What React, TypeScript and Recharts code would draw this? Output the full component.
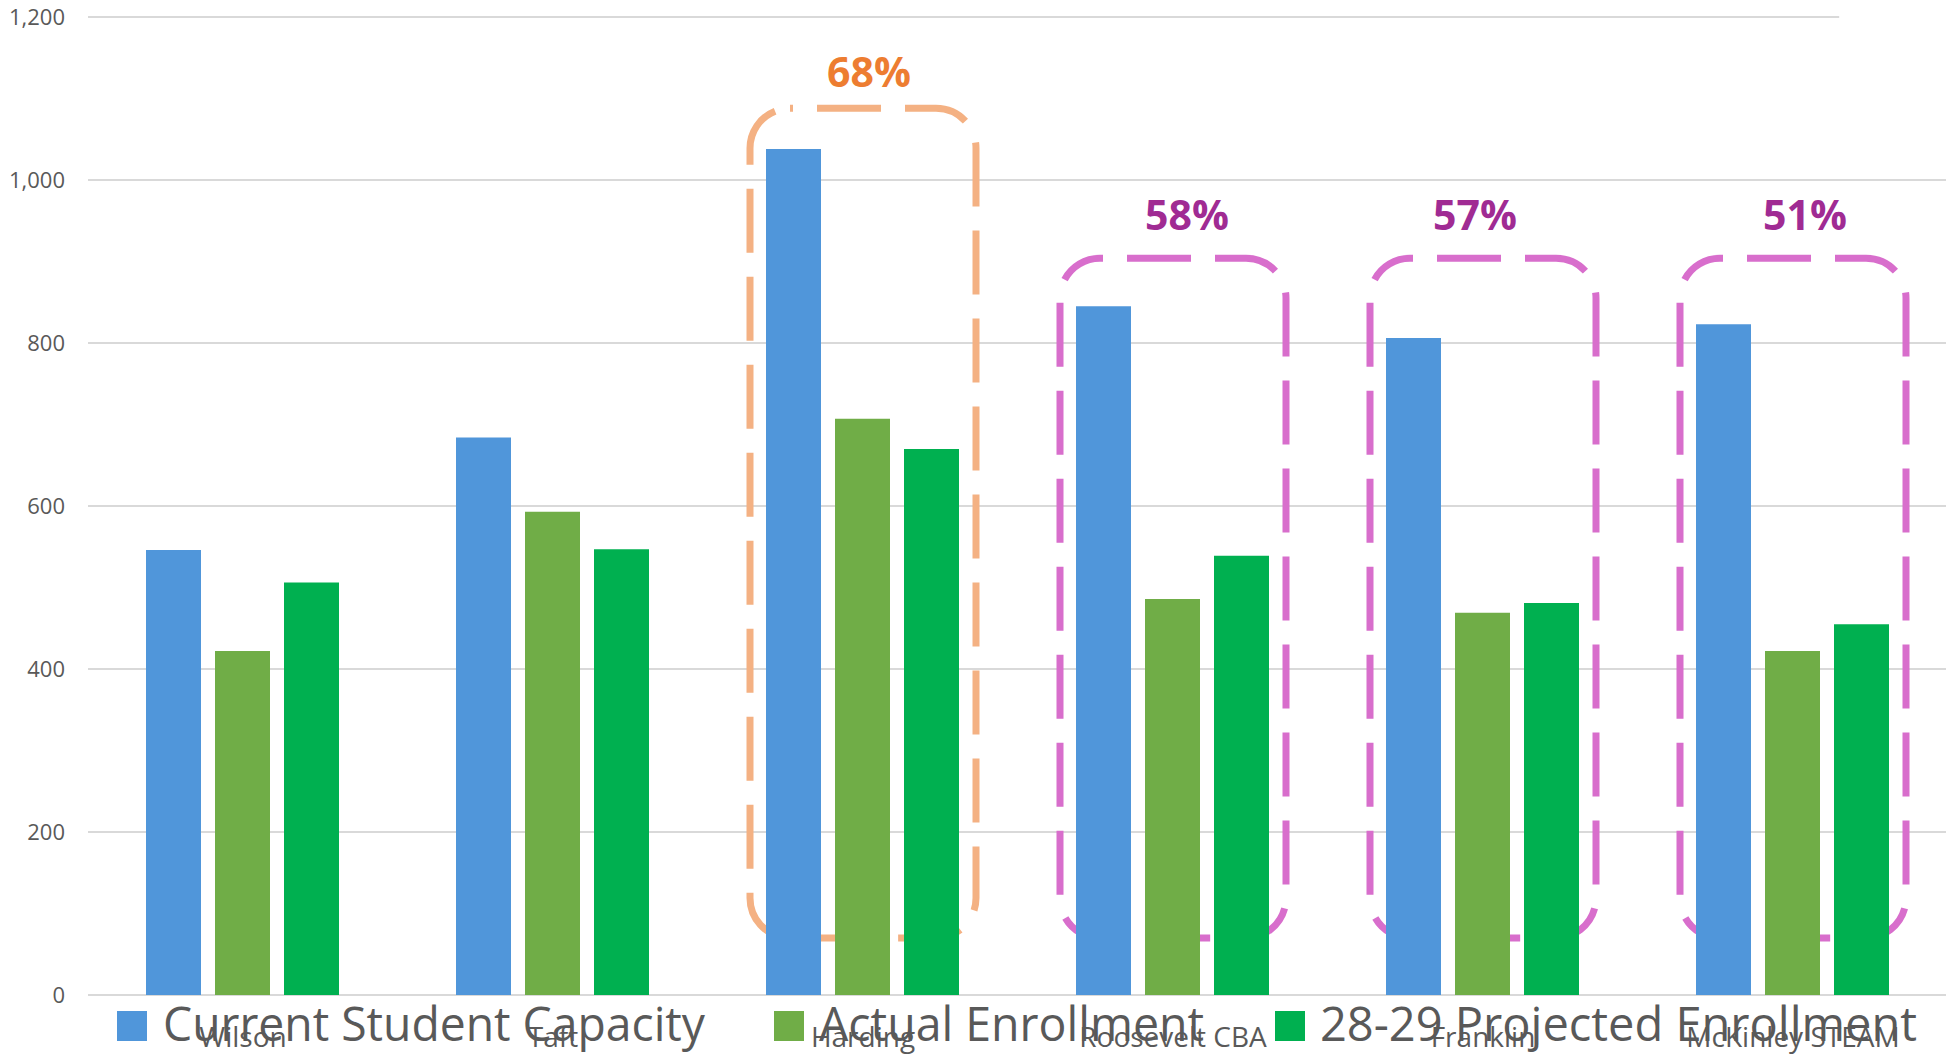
import React from 'react';
import { BarChart, Bar, XAxis, YAxis, CartesianGrid, ReferenceArea, Legend } from 'recharts';

// ---------- data ----------
const schools = ['Wilson', 'Taft', 'Harding', 'Roosevelt CBA', 'Franklin', 'McKinley STEAM'];
const capacity = [546, 684, 1038, 845, 806, 823];
const actual = [422, 593, 707, 486, 469, 422];
const projected = [506, 547, 670, 539, 481, 455];
const yTicks = [0, 200, 400, 600, 800, 1000, 1200];
const seriesNames = ['Current Student Capacity', 'Actual Enrollment', '28-29 Projected Enrollment'];

const boxCategories = ['Harding', 'Roosevelt CBA', 'Franklin', 'McKinley STEAM'];
const boxTops = [1088, 904, 904, 904];
const boxBottoms = [70, 70, 70, 70];
const boxLabels = ['68%', '58%', '57%', '51%'];

// ---------- styles ----------
const seriesKeys = ['capacity', 'actual', 'projected'];
const seriesColors = ['#5096DA', '#70AD47', '#00B050'];
const boxStroke = ['#F4B183', '#D86ECC', '#D86ECC', '#D86ECC'];
const labelColor = ['#ED7D31', '#A02B93', '#A02B93', '#A02B93'];
const labelDx = [6, 14, -8, 12];
const labelDy = [21, 28, 28, 28];
const legendSquareX = [117, 774, 1275];
const legendTextX = [163, 819, 1320];
const legendTextW = [542, 385, 597];
const FONT = '"Open Sans", "Noto Sans", sans-serif';
const GRAY = '#595959';

const data = schools.map((s, i) => ({
  school: s,
  capacity: capacity[i],
  actual: actual[i],
  projected: projected[i],
}));

const CatTick = (props: any) => {
  const { x, y, payload } = props;
  return (
    <text x={x} y={y + 52} textAnchor="middle" fill={GRAY} fontFamily={FONT} fontSize={28}>
      {payload.value}
    </text>
  );
};

const GridLine = (p: any) => {
  const top = typeof p.y === 'number' ? p.y : 17;
  const isTop = Math.abs(p.y1 - top) < 1;
  const x2 = isTop ? p.x1 + (p.x2 - p.x1) * 0.9415 : p.x2;
  return <line key={p.key} x1={p.x1} y1={p.y1} x2={x2} y2={p.y2} stroke="#D9D9D9" strokeWidth={2} />;
};

const makeBoxShape = (i: number) => (props: any) => {
  const { x, y, width, height } = props;
  const inset = 42;
  const rx = x + inset;
  const rw = width - 2 * inset;
  return (
    <g>
      <rect
        x={rx}
        y={y}
        width={rw}
        height={height}
        rx={40}
        ry={40}
        fill="none"
        stroke={boxStroke[i]}
        strokeWidth={7}
        strokeDasharray="64 24"
        strokeDashoffset={61}
      />
      <text
        x={x + width / 2 + labelDx[i]}
        y={y - labelDy[i]}
        textAnchor="middle"
        fill={labelColor[i]}
        fontFamily={FONT}
        fontWeight={700}
        fontSize={41}
      >
        {boxLabels[i]}
      </text>
    </g>
  );
};

const LegendContent = () => (
  <svg width={1946} height={70} style={{ display: 'block' }}>
    {seriesNames.map((name, i) => (
      <g key={name}>
        <rect x={legendSquareX[i]} y={21} width={30} height={30} fill={seriesColors[i]} />
        <text
          x={legendTextX[i]}
          y={51}
          fill={GRAY}
          fontFamily={FONT}
          fontSize={48}
          textLength={legendTextW[i]}
          lengthAdjust="spacingAndGlyphs"
        >
          {name}
        </text>
      </g>
    ))}
  </svg>
);

export default function App() {
  return (
    <div style={{ position: 'absolute', left: 0, top: 0, width: 1946, height: 1060, overflow: 'hidden', background: '#fff' }}>
      <BarChart
        width={1948}
        height={1060}
        data={data}
        margin={{ top: 17, right: 0, left: 0, bottom: 0 }}
        barCategoryGap={58}
        barGap={14}
      >
        <CartesianGrid vertical={false} horizontal={GridLine as any} stroke="#D9D9D9" strokeWidth={2} />
        <XAxis
          dataKey="school"
          axisLine={false}
          tickLine={false}
          tickSize={0}
          tickMargin={0}
          height={65}
          tick={<CatTick />}
          interval={0}
        />
        <YAxis
          domain={[0, 1200]}
          ticks={yTicks}
          width={88}
          axisLine={false}
          tickLine={false}
          tickSize={0}
          tickMargin={23}
          tickFormatter={(v: number) => v.toLocaleString('en-US')}
          tick={{ fill: GRAY, fontSize: 22, fontFamily: FONT }}
          interval={0}
        />
        {seriesKeys.map((k, i) => (
          <Bar key={k} dataKey={k} name={seriesNames[i]} fill={seriesColors[i]} isAnimationActive={false} />
        ))}
        {boxCategories.map((c, i) => (
          <ReferenceArea
            key={c}
            x1={c}
            x2={c}
            y1={boxBottoms[i]}
            y2={boxTops[i]}
            shape={makeBoxShape(i)}
            ifOverflow="visible"
          />
        ))}
        <Legend
          layout="horizontal"
          verticalAlign="middle"
          align="center"
          width={1946}
          wrapperStyle={{ top: 990, left: 0 }}
          content={<LegendContent />}
        />
      </BarChart>
    </div>
  );
}
